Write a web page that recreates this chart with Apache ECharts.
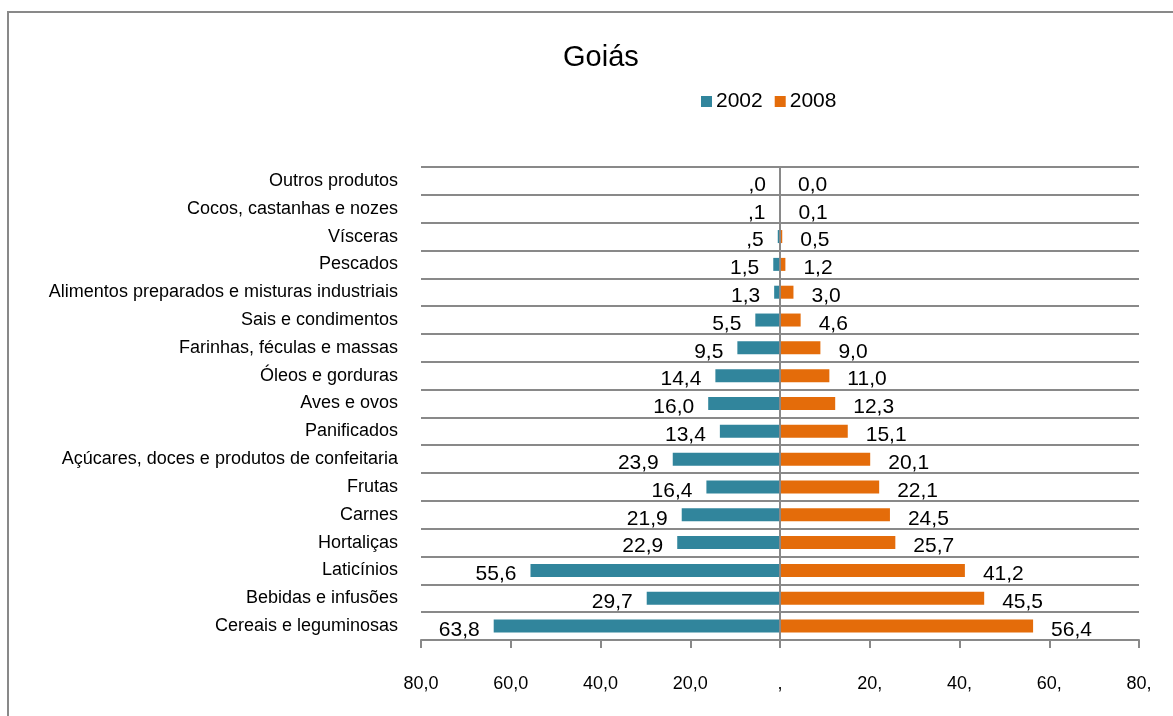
<!DOCTYPE html>
<html>
<head>
<meta charset="utf-8">
<script src="https://cdn.jsdelivr.net/npm/echarts@6/dist/echarts.min.js"></script>
<style>
  html, body { margin: 0; padding: 0; background: #fff; }
  #chart { width: 1173px; height: 716px; }
</style>
</head>
<body>
<div id="chart"></div>
<script>
// categorias, de cima para baixo
var categorias = [
  'Outros produtos',
  'Cocos, castanhas e nozes',
  'Vísceras',
  'Pescados',
  'Alimentos preparados e misturas industriais',
  'Sais e condimentos',
  'Farinhas, féculas e massas',
  'Óleos e gorduras',
  'Aves e ovos',
  'Panificados',
  'Açúcares, doces e produtos de confeitaria',
  'Frutas',
  'Carnes',
  'Hortaliças',
  'Laticínios',
  'Bebidas e infusões',
  'Cereais e leguminosas'
]
var v2002 = [0.0, 0.1, 0.5, 1.5, 1.3, 5.5, 9.5, 14.4, 16.0, 13.4, 23.9, 16.4, 21.9, 22.9, 55.6, 29.7, 63.8]
var v2008 = [0.0, 0.1, 0.5, 1.2, 3.0, 4.6, 9.0, 11.0, 12.3, 15.1, 20.1, 22.1, 24.5, 25.7, 41.2, 45.5, 56.4]
// rótulos do eixo x, como aparecem no original
var ticksX = ['80,0', '60,0', '40,0', '20,0', ',', '20,', '40,', '60,', '80,']

var azul = '#31859c'
var laranja = '#e46c0a'
var cinza = '#898989'

function fmt (v) {
  return Math.abs(v).toFixed(1).replace('.', ',')
}
// 2002 aparece sem o zero à esquerda (",5")
function fmt2002 (v) {
  var s = fmt(v)
  return s.indexOf('0,') === 0 ? s.substring(1) : s
}

var myChart = echarts.init(document.getElementById('chart'))
myChart.setOption({
  animation: false,
  textStyle: { fontFamily: 'Liberation Sans, Arial, sans-serif' },
  graphic: [{
    type: 'rect',
    shape: { x: 8, y: 12, width: 1200, height: 760 },
    style: { fill: 'none', stroke: cinza, lineWidth: 2 },
    silent: true
  }],
  title: {
    text: 'Goiás',
    left: 558,
    top: 38,
    textStyle: { fontSize: 29, fontWeight: 'normal', color: '#000' }
  },
  legend: {
    data: ['2002', '2008'],
    left: 696,
    top: 86,
    itemWidth: 11,
    itemHeight: 11,
    itemGap: 12,
    icon: 'rect',
    textStyle: { fontSize: 21, color: '#000', padding: [0, 0, 0, -1] }
  },
  grid: {
    left: 421,
    right: 34,
    top: 167,
    bottom: 76
  },
  xAxis: {
    type: 'value',
    min: -80,
    max: 80,
    interval: 20,
    axisLine: { show: true, lineStyle: { color: cinza, width: 2 } },
    axisTick: { show: true, length: 8, lineStyle: { color: cinza, width: 2 } },
    splitLine: { show: false },
    axisLabel: {
      margin: 35,
      fontSize: 18,
      color: '#000',
      formatter: function (value) {
        return ticksX[Math.round((value + 80) / 20)]
      }
    }
  },
  yAxis: {
    type: 'category',
    inverse: true,
    data: categorias,
    axisLine: { show: false, onZero: false },
    axisTick: { show: false },
    splitLine: { show: true, lineStyle: { color: cinza, width: 2 } },
    axisLabel: { fontSize: 18, color: '#000', margin: 23 }
  },
  series: [
    {
      name: '2002',
      type: 'bar',
      stack: 'total',
      barWidth: 13,
      itemStyle: { color: azul },
      data: v2002.map(function (v) { return -v }),
      label: {
        show: true,
        position: 'left',
        distance: 14,
        offset: [0, 4],
        fontSize: 21,
        color: '#000',
        formatter: function (p) { return fmt2002(p.value) }
      }
    },
    {
      name: '2008',
      type: 'bar',
      stack: 'total',
      barWidth: 13,
      itemStyle: { color: laranja },
      data: v2008,
      label: {
        show: true,
        position: 'right',
        distance: 18,
        offset: [0, 4],
        fontSize: 21,
        color: '#000',
        formatter: function (p) { return fmt(p.value) }
      },
      markLine: {
        silent: true,
        symbol: ['none', 'none'],
        label: { show: false },
        lineStyle: { color: cinza, width: 2, type: 'solid' },
        data: [{ xAxis: 0 }]
      }
    }
  ]
})
</script>
</body>
</html>
